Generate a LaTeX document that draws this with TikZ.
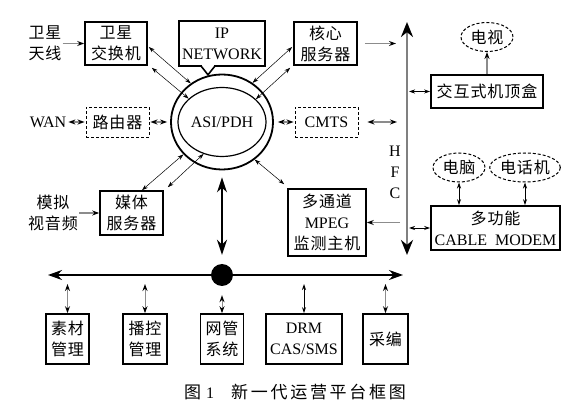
\documentclass[tikz,border=0pt]{standalone}
\usepackage{fontspec}
\setmainfont{Liberation Serif}
\newfontfamily\zhfont[LetterSpace=6]{Noto Sans CJK SC}
\newfontfamily\zhcapfont[LetterSpace=16]{Noto Sans CJK SC}
\newcommand{\zhtxt}[1]{{\zhfont #1}}
\newcommand{\zhcap}[1]{{\fontsize{17}{20}\zhcapfont #1}}
\usetikzlibrary{positioning,shapes.geometric,arrows.meta}
\newdimen\boxLine
\boxLine=1.6pt

\begin{document}
\begin{tikzpicture}[
    x=1pt, y=-1pt,
    font=\fontsize{16}{21}\selectfont,
    box/.style={%
      draw,
      rectangle,
      line width=\boxLine,
      align=center,
      inner sep=0pt,
    },
    dashbox/.style={%
      draw,
      rectangle,
      line width=0.9pt,
      dash pattern=on 3pt off 2pt,
      align=center,
      inner sep=0pt,
    },
    dashoval/.style={%
      draw,
      ellipse,
      line width=1pt,
      dash pattern=on 3pt off 2pt,
      inner sep=0pt,
    },
    label/.style={align=center, inner sep=1pt},
    link/.style={line width=0.5pt, {Stealth[length=6pt,width=4pt]}-{Stealth[length=6pt,width=4pt]}},
    feed/.style={draw=black!45, line width=1.2pt, -{Stealth[length=7pt,width=5pt,color=black]}},
    feedboth/.style={draw=black!45, line width=1.2pt, {Stealth[length=7pt,width=5pt,color=black]}-{Stealth[length=7pt,width=5pt,color=black]}},
  ]
    \useasboundingbox (0,0) rectangle (579,414);

    % ring in the middle
    \coordinate (c) at (222,122);
    \node [draw, ellipse, line width=1.8pt, minimum width=102pt, minimum height=95pt] (ring) at (c) {};
    \node [draw, ellipse, line width=1.2pt, minimum width=78pt, minimum height=69pt, inner sep=0pt] (hub) at (c) {ASI/PDH};

    \path (c) ++(-106,-78.5) node [box, minimum width=62pt, minimum height=43pt] (satsw) {\zhtxt{卫星}\\\zhtxt{交换机}};
    \path (c) ++(0,-78.5) node [box, minimum width=86pt, minimum height=45pt] (ipnet) {IP\\NETWORK};
    \path (c) ++(103.5,-78.5) node [box, minimum width=63pt, minimum height=43pt] (core) {\zhtxt{核心}\\\zhtxt{服务器}};
    \path (c) ++(-104.5,0) node [dashbox, minimum width=63pt, minimum height=30pt] (router) {\zhtxt{路由器}};
    \path (c) ++(104.5,0) node [dashbox, minimum width=63pt, minimum height=30pt] (cmts) {CMTS};
    \path (c) ++(-90.5,91) node [box, minimum width=63pt, minimum height=44pt] (media) {\zhtxt{媒体}\\\zhtxt{服务器}};
    \path (c) ++(105,100.5) node [box, minimum width=78pt, minimum height=67pt] (mpeg) {\zhtxt{多通道}\\MPEG\\\zhtxt{监测主机}};

    \path (satsw) ++(-71,0) node [label] (ant) {\zhtxt{卫星}\\\zhtxt{天线}};
    \path (router) ++(-69.5,0) node [label] (wan) {WAN};
    \path (media) ++(-78.5,0) node [label] (analog) {\zhtxt{模拟}\\\zhtxt{视音频}};

    % HFC side
    \coordinate (hfcT) at (407,22);
    \coordinate (hfcB) at (407,255);
    \node [label] (hfc) at (395,172) {H\\F\\C};
    \node [box, minimum width=112pt, minimum height=33pt] (stb) at (487,91.5) {\zhtxt{交互式机顶盒}};
    \node [dashoval, minimum width=52pt, minimum height=29pt] (tv) at (487,37) {\zhtxt{电视}};
    \node [box, minimum width=129pt, minimum height=44pt] (modem) at (495.5,228) {\zhtxt{多功能}\\CABLE\ \ MODEM};
    \node [dashoval, minimum width=52pt, minimum height=29pt] (pc) at (459,167.5) {\zhtxt{电脑}};
    \node [dashoval, minimum width=66pt, minimum height=29pt] (phone) at (525,167.5) {\zhtxt{电话机}};

    % bus and the boxes under it
    \coordinate (busL) at (48,275);
    \coordinate (busR) at (403,275);
    \coordinate (busB) at (48,284);
    \node [circle, fill, minimum size=22pt, inner sep=0pt] (dot) at (222,275) {};
    \node [box, minimum width=43pt, minimum height=50pt] (m1) at (67.5,339) {\zhtxt{素材}\\\zhtxt{管理}};
    \node [box, minimum width=44pt, minimum height=50pt] (m2) at (145,339) {\zhtxt{播控}\\\zhtxt{管理}};
    \node [box, minimum width=43pt, minimum height=50pt] (m3) at (222,339) {\zhtxt{网管}\\\zhtxt{系统}};
    \node [box, minimum width=76pt, minimum height=50pt] (m4) at (304,339) {DRM\\CAS/SMS};
    \node [box, minimum width=45pt, minimum height=50pt] (m5) at (385.5,339) {\zhtxt{采编}};

    \node (cap) at (295,392) {\zhcap{图}\hspace{5pt}1\hspace{17pt}\zhcap{新一代运营平台框图}};

    % IP NETWORK pointer
    \fill [white] ([shift={(-20pt,2pt)}]ipnet.south) rectangle ([shift={(-8pt,-2pt)}]ipnet.south);
    \draw [line width=\boxLine] ([shift={(-21pt,0.8pt)}]ipnet.south) -- ([shift={(-14pt,-8pt)}]ipnet.south) -- ([shift={(-7pt,0.8pt)}]ipnet.south);

    % thin links to the ring
    \draw [link] ([shift={(1pt,-3.5pt)}]satsw.east) -- (ring.129);
    \draw [link] ([shift={(4pt,-2pt)}]satsw.south east) -- (hub.145);
    \draw [link] ([shift={(-1pt,-3.5pt)}]core.west) -- (ring.52);
    \draw [link] ([shift={(-3pt,-2pt)}]core.south west) -- (hub.34);
    \draw [link] (ring.220) -- ([xshift=10.5pt]media.north);
    \draw [link] (hub.240) -- ([shift={(4pt,3pt)}]media.north east);
    \draw [link] (ring.311) -- ([shift={(-3pt,4pt)}]mpeg.north west);

    % grey arrows
    \draw [feed] (ant) -- (satsw);
    \draw [feed] (analog) -- (media);
    \draw [feedboth, shorten <=1pt, shorten >=1pt] (wan) -- (router);
    \draw [feedboth, shorten <=1pt, shorten >=3pt] (router) -- (ring);
    \draw [feedboth, shorten <=4pt, shorten >=1pt] (ring) -- (cmts);
    \draw [feed, shorten <=7pt, shorten >=11pt] (core.east) -- (core.east -| hfcT);
    \draw [feedboth, shorten <=9pt, shorten >=10pt] (cmts.east) -- (cmts.east -| hfcT);
    \draw [feed, shorten <=7pt] (mpeg.east -| hfcT) -- (mpeg.east);
    \draw [link, line width=0.8pt, shorten <=2pt] (stb.west -| hfcT) -- (stb.west);
    \draw [link, line width=0.8pt, shorten <=2pt] (modem.west -| hfcT) -- (modem.west);
    \draw [feed] (stb) -- (tv);
    \draw [link, line width=0.8pt] (pc.south) -- (pc.south |- modem.north);
    \draw [link, line width=0.8pt] (phone.south) -- (phone.south |- modem.north);

    % HFC trunk, hub drop and bus
    \draw [draw=black!50, line width=2.5pt, {Stealth[length=15pt,width=12pt,color=black]}-{Stealth[length=15pt,width=12pt,color=black]}] (hfcT) -- (hfcB);
    \draw [line width=2pt, {Stealth[length=15pt,width=10pt]}-{Stealth[length=15pt,width=10pt]}] ([yshift=-7pt]ring.south) -- ([yshift=9pt]dot.north);
    \draw [line width=1.5pt, {Stealth[length=14pt,width=10pt]}-{Stealth[length=14pt,width=10pt]}] (busL) -- (busR);

    \draw [feedboth, line width=1pt] (m1.north |- busB) -- (m1.north);
    \draw [feedboth, line width=1pt] (m2.north |- busB) -- (m2.north);
    \draw [feedboth, line width=1pt] ([yshift=-9pt]dot.south) -- (m3.north);
    \draw [link, line width=0.8pt] (m4.north |- busB) -- (m4.north);
    \draw [feedboth, line width=1pt] (m5.north |- busB) -- (m5.north);
\end{tikzpicture}
\end{document}
